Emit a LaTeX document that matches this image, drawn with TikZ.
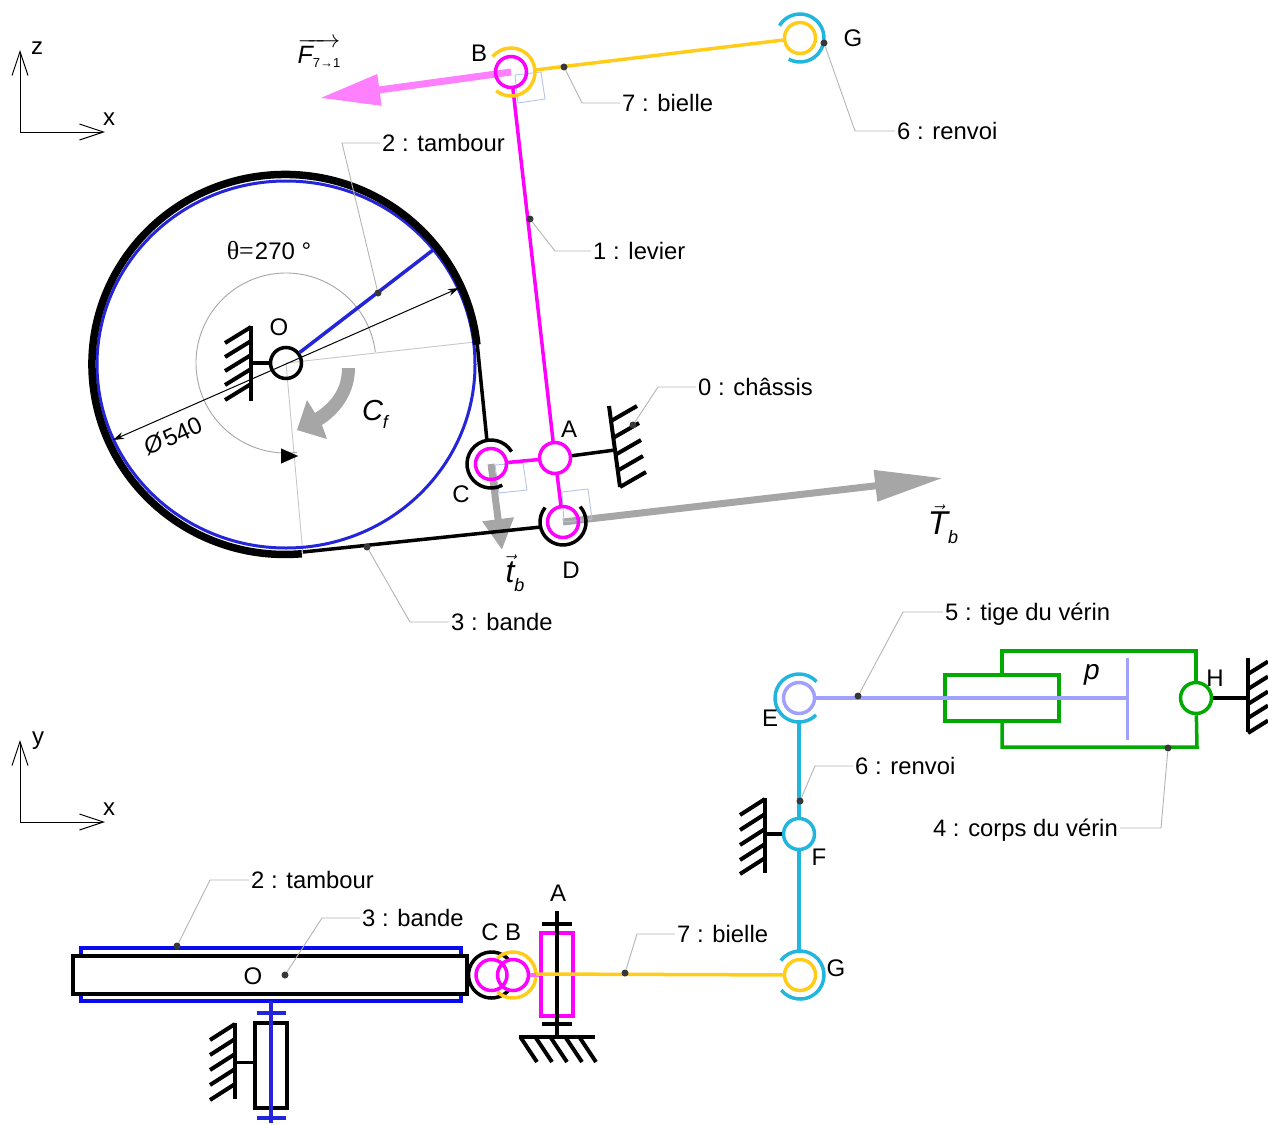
\documentclass[tikz,border=0pt]{standalone}
\usepackage{fontspec}
\setmainfont{Liberation Sans}
\newfontfamily\thetafont{Liberation Serif}
\usetikzlibrary{arrows.meta}
\definecolor{magenta1}{HTML}{FF00FF}
\definecolor{pink1}{HTML}{FF80FF}
\definecolor{gold1}{HTML}{FFCC1A}
\definecolor{cyan1}{HTML}{22B5DE}
\definecolor{violet1}{HTML}{A0A0FF}
\definecolor{green1}{HTML}{00AA00}
\definecolor{drum1}{HTML}{2424D8}
\definecolor{drum2}{HTML}{0A0AEE}
\definecolor{grey1}{HTML}{A6A6A6}
\definecolor{lead1}{HTML}{B4B4B4}
\definecolor{square1}{HTML}{B4C4E4}
\tikzset{
  joint/.style={circle,draw,line width=3.5pt,minimum size=31pt,inner sep=0pt},
  link/.style={line width=3.5pt},
  bati/.style={line width=4pt,black},
  axis/.style={line width=1pt,{Straight Barb[length=24pt,width=16pt]}-{Straight Barb[length=24pt,width=16pt]}},
  lbl/.style={font=\fontsize{23.8}{24}\selectfont,inner sep=2pt,text height=17pt,text depth=0pt},
  letter/.style={font=\fontsize{24}{24}\selectfont,inner sep=0pt},
  spot/.style={circle,fill=black!78,minimum size=7pt,inner sep=0pt},
  leader/.style={lead1,line width=0.9pt},
  extline/.style={black!22,line width=0.9pt},
  square/.style={square1,line width=0.9pt},
  effort/.style={line width=7pt,-{Triangle[length=#1,width=30pt]}},
  effort/.default=60pt
}
\newcommand{\jointarc}[4]{([shift={(#2:#4)}]#1) arc[start angle=#2,end angle=#3,radius=#4]}
\newcommand{\vecsub}[2]{$\vec{\hbox{\itshape #1}}$\raisebox{-9pt}{\fontsize{18}{18}\selectfont\itshape #2}}
\begin{document}
\begin{tikzpicture}[x=1pt,y=1pt]
  \useasboundingbox (0,-1124) rectangle (1268,0);
  % reperes
  \coordinate (xz0) at (20,-132);
  \coordinate (xz1) at (105,-132);
  \coordinate (xz2) at (20,-50);
  \draw[axis] (xz1) -- (xz0) -- (xz2);
  \node[letter] (xlab1) at (109,-119) {x};
  \node[letter] (zlab) at (37,-48) {z};
  \coordinate (xy0) at (20,-822);
  \coordinate (xy1) at (105,-822);
  \coordinate (xy2) at (20,-740);
  \draw[axis] (xy1) -- (xy0) -- (xy2);
  \node[letter] (xlab2) at (109,-809) {x};
  \node[letter] (ylab) at (38,-741) {y};

  % vue de face : tambour
  \coordinate (ptO) at (286,-363);
  \coordinate (ptDrum) at (286,-364.5);
  \coordinate (rim) at (433,-250);
  \coordinate (ext1) at (475,-342);
  \coordinate (ext2) at (303,-555);
  \coordinate (bandS) at (476.9,-344.6);
  \draw[extline] (ptO) -- (ext1);
  \draw[extline] (ptO) -- (ext2);
  \draw[drum1,line width=3pt] (ptDrum) ellipse[x radius=189,y radius=183.5];
  \draw[line width=7.5pt] (bandS) arc[start angle=6,end angle=275,x radius=193,y radius=190];
  \draw[extline,black!35] \jointarc{ptO}{7}{277}{90};
  \coordinate (angA) at (281,-456);
  \coordinate (angB) at (298,-456);
  \draw[line width=0.1pt,-{Triangle[length=17pt,width=15pt]}] (angA) -- (angB);
  \coordinate (dimA) at (113,-440);
  \coordinate (dimB) at (459,-288);
  \draw[line width=1pt,{Stealth[length=11pt,width=7pt]}-{Stealth[length=11pt,width=7pt]}] (dimA) -- (dimB);
  \node[letter,rotate=24] (dia) at (173,-436) {\textit{Ø}\kern1pt 540};
  \node[letter,inner sep=0pt] (theta) at (269,-251) {{\thetafont\fontsize{26}{26}\selectfont θ=}\kern1pt 270 °};
  \node[joint] (O) at (ptO) {};
  \draw[drum1,link] (O) -- (rim);
  \draw[bati] (251,-326) -- (251,-401);
  \foreach \y in {327,341,355,369,384}
    \draw[bati] (251,-\y) -- ++(-26,-16);
  \coordinate (frameO) at (251,-363);
  \draw[link] (O) -- (frameO);
  \node[letter] (Olab) at (279,-327) {O};

  % couple de freinage
  \fill[grey1] (342,-368) -- (355,-368) .. controls (355,-392) and (342,-412) .. (322,-425)
    -- (327,-439) -- (297,-430) -- (307,-400) -- (315,-413)
    .. controls (332,-402) and (342,-388) .. cycle;
  \node[inner sep=0pt,font=\fontsize{29}{29}\selectfont\itshape] (Cf) at (375,-414) {C\raisebox{-8pt}{\fontsize{18}{18}\selectfont f}};

  % efforts
  \coordinate (ptA) at (555,-458);
  \coordinate (ptB) at (511,-72);
  \coordinate (ptC) at (491,-464);
  \coordinate (ptD) at (563,-522);
  \coordinate (tipF) at (320,-98);
  \coordinate (tipT) at (943,-478);
  \coordinate (tipt) at (502,-550);
  \draw[effort,pink1] (ptB) -- (tipF);
  \draw[effort=68pt,grey1] (ptD) -- (tipT);
  \draw[effort=31pt,grey1] (ptC) -- (tipt);
  \draw[square] (515,-75) -- (541,-72) -- (545,-99) -- (518,-103) -- cycle;
  \draw[square] (495,-465) -- (523,-463) -- (527,-490) -- (499,-493) -- cycle;
  \draw[square] (562,-492) -- (588,-489) -- (592,-519) -- (564,-522) -- cycle;

  % levier et bande
  \node[joint,magenta1] (A) at (ptA) {};
  \node[joint,magenta1] (B) at (ptB) {};
  \node[joint,magenta1] (C) at (ptC) {};
  \node[joint,magenta1] (D) at (ptD) {};
  \draw[link,magenta1] (A) -- (B);
  \draw[link,magenta1] (A) -- (C);
  \draw[link,magenta1] (A) -- (D);
  \draw[link] \jointarc{ptC}{31}{298}{24};
  \draw[link] \jointarc{ptD}{141}{402}{23};
  \coordinate (bandT) at (477,-342);
  \coordinate (bandC) at (487,-441);
  \coordinate (bandL) at (303,-552);
  \coordinate (bandD) at (541,-527);
  \draw[link] (bandT) -- (bandC);
  \draw[link] (bandL) -- (bandD);
  \coordinate (frameA) at (615,-450);
  \draw[link] (A) -- (frameA);
  \draw[bati] (609,-406) -- (620,-487);
  \foreach \x/\y in {611/421,613/438,615/455,617/471,620/487}
    \draw[bati] (\x,-\y) -- ++(26,15);

  % bielle et renvoi
  \node[joint,gold1] (G) at (800,-38) {};
  \coordinate (Bgold) at (535,-70);
  \draw[link,gold1] (Bgold) -- (G);
  \draw[link,gold1] \jointarc{ptB}{140}{-128}{24};
  \draw[link,cyan1] \jointarc{G.center}{149}{-118}{24};
  \node[letter] (Alab) at (569,-429) {A};
  \node[letter] (Blab) at (479,-53) {B};
  \node[letter] (Clab) at (461,-494) {C};
  \node[letter] (Dlab) at (571,-570) {D};
  \node[letter] (Glab) at (853,-38) {G};
  \node[inner sep=0pt] (Flab) at (319,-53) {\fontsize{25}{25}\selectfont$\overrightarrow{\hbox{\itshape F\upshape\fontsize{13}{13}\selectfont\raisebox{-.5ex}{7→1}}}$};
  \node[inner sep=0pt,font=\fontsize{33}{33}\selectfont] (Tlab) at (943,-524) {\vecsub{T}{b}};
  \node[inner sep=0pt,font=\fontsize{32}{32}\selectfont] (tlab) at (515,-573) {\vecsub{t}{b}};

  % reperes de pieces, vue de face
  \node[spot] (s2) at (378,-293) {};
  \node[spot] (s1) at (530,-219) {};
  \node[spot] (s7) at (564,-67) {};
  \node[spot] (s6) at (824,-43) {};
  \node[spot] (s0) at (633,-425) {};
  \node[spot] (s3) at (367,-547) {};
  \node[lbl,anchor=west] (l2) at (380,-143) {2 : tambour};
  \node[lbl,anchor=west] (l1) at (591,-251) {1 : levier};
  \node[lbl,anchor=west] (l7) at (620,-103) {7 : bielle};
  \node[lbl,anchor=west] (l6) at (895,-131) {6 : renvoi};
  \node[lbl,anchor=west] (l0) at (696,-387) {0 : châssis};
  \node[lbl,anchor=west] (l3) at (449,-622) {3 : bande};
  \coordinate (k2) at (342,-143);
  \coordinate (k1) at (555,-251);
  \coordinate (k7) at (582,-103);
  \coordinate (k6) at (855,-131);
  \coordinate (k0) at (658,-387);
  \coordinate (k3) at (410,-622);
  \draw[leader] (s2) -- (k2) -- (l2);
  \draw[leader] (s1) -- (k1) -- (l1);
  \draw[leader] (s7) -- (k7) -- (l7);
  \draw[leader] (s6) -- (k6) -- (l6);
  \draw[leader] (s0) -- (k0) -- (l0);
  \draw[leader] (s3) -- (k3) -- (l3);

  % verin
  \node[joint,violet1] (E) at (799,-698) {};
  \node[joint,cyan1] (F) at (799,-834) {};
  \node[joint,green1] (H) at (1196,-698) {};
  \node[joint,gold1] (Gb) at (800,-975) {};
  \draw[link,cyan1] \jointarc{E.center}{43}{315}{24};
  \draw[link,cyan1] \jointarc{Gb.center}{143}{-141}{24};
  \coordinate (Ecyan) at (799,-722);
  \coordinate (Gcyan) at (799,-951);
  \draw[link,cyan1] (Ecyan) -- (F);
  \draw[link,cyan1] (F) -- (Gcyan);
  \coordinate (piston) at (1127,-698);
  \coordinate (bodyT) at (1196,-651);
  \coordinate (bodyB) at (1197,-747);
  \draw[link,green1] (945,-675) rectangle (1059,-721);
  \draw[link,green1] (1002,-675) -- (1002,-651) -- (bodyT) -- (H);
  \draw[link,green1] (1002,-721) -- (1002,-747) -- (bodyB) -- (H);
  \draw[link,violet1] (E) -- (piston);
  \draw[violet1,line width=3pt] (1127,-658) -- (1127,-740);
  \node[inner sep=0pt,font=\fontsize{28}{28}\selectfont\itshape] (plab) at (1092,-675) {p};
  \coordinate (frameH) at (1248,-698);
  \draw[link] (H) -- (frameH);
  \draw[bati] (1248,-658) -- (1248,-732);
  \foreach \y in {674,689,704,718,733}
    \draw[bati] (1248,-\y) -- ++(20,12.5);
  \coordinate (frameF) at (765,-834);
  \draw[link] (F) -- (frameF);
  \draw[bati] (765,-798) -- (765,-873);
  \foreach \y in {799,814,829,844,858}
    \draw[bati] (765,-\y) -- ++(-25,-16);
  \node[letter] (Elab) at (770,-718) {E};
  \node[letter] (Flab2) at (819,-857) {F};
  \node[letter] (Hlab) at (1215,-678) {H};
  \node[letter] (Glab2) at (836,-968) {G};

  % vue de dessus : tambour
  \draw[drum2,line width=4pt] (81,-948) rectangle (461,-1001);
  \draw[bati,fill=white] (73,-956) rectangle (467,-994);
  \node[letter] (Olab2) at (253,-976) {O};
  \draw[line width=3.5pt] (255,-1023) rectangle (287,-1108);
  \coordinate (axeT) at (271,-1001);
  \coordinate (axeB) at (271,-1123);
  \draw[drum1,line width=4pt] (axeT) -- (axeB);
  \draw[drum1,line width=3.5pt] (257,-1013) -- (286,-1013);
  \draw[drum1,line width=3.5pt] (257,-1118) -- (286,-1118);
  \coordinate (frameO2) at (235,-1062);
  \coordinate (axeO2) at (255,-1062);
  \draw[line width=3pt] (axeO2) -- (frameO2);
  \draw[bati] (235,-1023) -- (235,-1099);
  \foreach \y in {1024,1039,1054,1069,1084}
    \draw[bati] (235,-\y) -- ++(-25,-16);

  % vue de dessus : levier
  \coordinate (ptCb) at (491.5,-975);
  \coordinate (ptBb) at (513,-975);
  \coordinate (rod) at (541,-975);
  \coordinate (rodG) at (536,-974);
  \draw[link] \jointarc{ptCb}{38}{322}{23};
  \draw[link,gold1] \jointarc{ptBb}{133}{-133}{23};
  \node[joint,magenta1] (Cb) at (ptCb) {};
  \node[joint,magenta1] (Bb) at (ptBb) {};
  \draw[link,magenta1!60] (Bb) -- (rod);
  \draw[line width=3.5pt,magenta1] (541,-933) rectangle (573,-1016);
  \coordinate (shaftT) at (557,-911);
  \coordinate (shaftB) at (557,-1037);
  \draw[bati] (shaftT) -- (shaftB);
  \draw[bati] (542,-924) -- (572,-924);
  \draw[bati] (542,-1024) -- (572,-1024);
  \draw[bati] (519,-1037) -- (595,-1037);
  \foreach \x in {521,536,551,566,580}
    \draw[bati] (\x,-1038) -- ++(16,-24);
  \draw[link,gold1] (rodG) -- (Gb);
  \node[letter] (Alab2) at (558,-893) {A};
  \node[letter] (Clab2) at (490,-932) {C};
  \node[letter] (Blab2) at (513,-932) {B};

  % reperes de pieces, verin et vue de dessus
  \node[spot] (s5) at (858,-696) {};
  \node[spot] (s6b) at (800,-801) {};
  \node[spot] (s4) at (1168,-748) {};
  \node[spot] (s7b) at (625,-973) {};
  \node[spot] (s2b) at (177,-946) {};
  \node[spot] (s3b) at (285,-975) {};
  \node[lbl,anchor=west] (l5) at (943,-612) {5 : tige du vérin};
  \node[lbl,anchor=west] (l6b) at (853,-766) {6 : renvoi};
  \node[lbl,anchor=east] (l4) at (1120,-828) {4 : corps du vérin};
  \node[lbl,anchor=west] (l7b) at (675,-934) {7 : bielle};
  \node[lbl,anchor=west] (l2b) at (249,-880) {2 : tambour};
  \node[lbl,anchor=west] (l3b) at (360,-918) {3 : bande};
  \coordinate (k5) at (903,-612);
  \coordinate (k6b) at (815,-766);
  \coordinate (k4) at (1161,-828);
  \coordinate (k7b) at (637,-934);
  \coordinate (k2b) at (210,-880);
  \coordinate (k3b) at (322,-918);
  \draw[leader] (s5) -- (k5) -- (l5);
  \draw[leader] (s6b) -- (k6b) -- (l6b);
  \draw[leader] (s4) -- (k4) -- (l4);
  \draw[leader] (s7b) -- (k7b) -- (l7b);
  \draw[leader] (s2b) -- (k2b) -- (l2b);
  \draw[leader] (s3b) -- (k3b) -- (l3b);
\end{tikzpicture}
\end{document}
